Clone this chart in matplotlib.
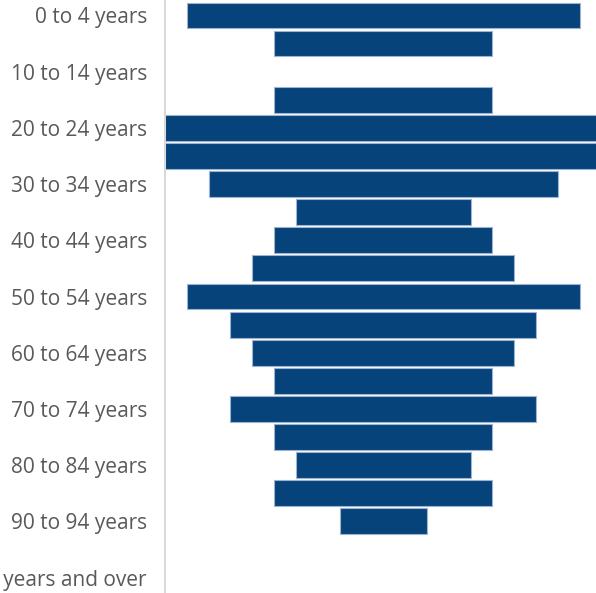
import matplotlib.pyplot as plt
import numpy as np

ages = ["0 to 4 years", "5 to 9 years", "10 to 14 years", "15 to 19 years",
        "20 to 24 years", "25 to 29 years", "30 to 34 years", "35 to 39 years",
        "40 to 44 years", "45 to 49 years", "50 to 54 years", "55 to 59 years",
        "60 to 64 years", "65 to 69 years", "70 to 74 years", "75 to 79 years",
        "80 to 84 years", "85 to 89 years", "90 to 94 years", "95 to 99 years",
        "100 years and over"]
male = [9, 5, 0, 5, 10.5, 10.5, 8, 4, 5, 6, 9, 7, 6, 5, 7, 5, 4, 5, 2, 0, 0]
female = [9, 5, 0, 5, 10.5, 10.5, 8, 4, 5, 6, 9, 7, 6, 5, 7, 5, 4, 5, 2, 0, 0]

plt.rcParams['font.family'] = ['Open Sans', 'DejaVu Sans']

fig = plt.figure(figsize=(5.96, 5.93), dpi=100)
ax = fig.add_axes([165/596, 0.0, 1 - 165/596, 1.0])

y = np.arange(len(ages))
m = np.array(male, dtype=float)
f = np.array(female, dtype=float)
w = m + f
lw = [0.8 if v > 0 else 0 for v in w]
ax.barh(y, w, left=-m, height=0.92, color="#05437A", edgecolor="#9DB3D1", linewidth=lw)

ax.set_xlim(-10.0, 9.75)
ax.set_ylim(len(ages) - 0.45, -0.55)
ax.set_yticks(y[::2])
ax.set_yticklabels(ages[::2], fontsize=15, color="#595959")
ax.tick_params(axis="y", length=0, pad=13)
ax.set_xticks([])
for s in ["top", "right", "bottom"]:
    ax.spines[s].set_visible(False)
ax.spines["left"].set_color("#D9D9D9")
ax.spines["left"].set_linewidth(1.5)

fig.savefig("out.png", dpi=100)
